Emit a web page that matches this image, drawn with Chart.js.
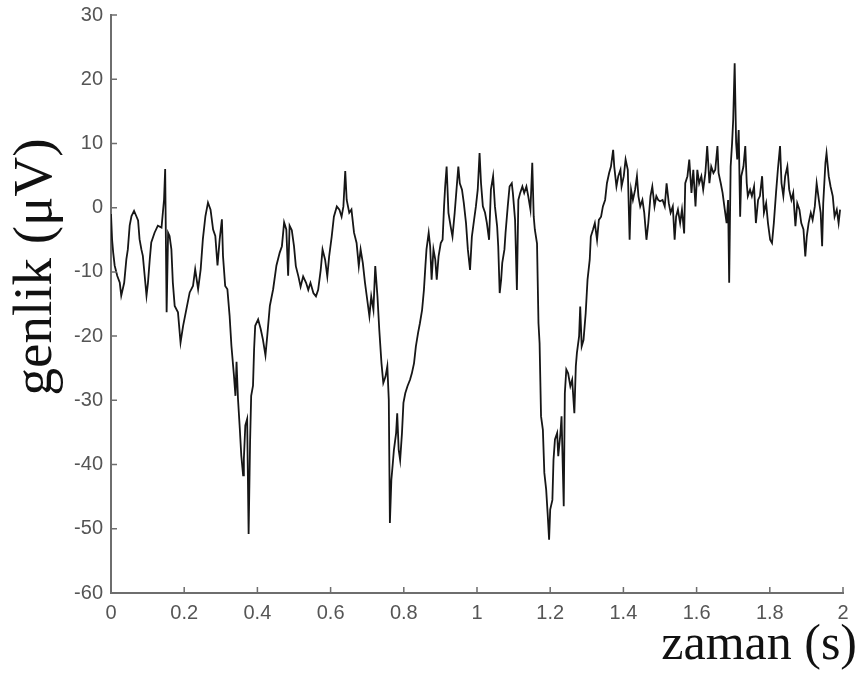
<!DOCTYPE html>
<html>
<head>
<meta charset="utf-8">
<title>genlik</title>
<script src="https://cdn.jsdelivr.net/npm/chart.js@4.4.1/dist/chart.umd.min.js"></script>
<style>
  html, body { margin: 0; padding: 0; background: #fff; }
  #wrap { width: 861px; height: 679px; }
</style>
</head>
<body>
<div id="wrap"><canvas id="eeg" width="861" height="679"></canvas></div>
<script>
// sample times (s) and amplitudes (µV) of the recorded trace
const times = [
  0.000, 0.003, 0.006, 0.010, 0.017, 0.024, 0.028, 0.036, 0.042, 0.046,
  0.051, 0.056, 0.063, 0.069, 0.074, 0.078, 0.083, 0.087, 0.092, 0.097,
  0.101, 0.106, 0.110, 0.119, 0.128, 0.138, 0.145, 0.148, 0.152, 0.156,
  0.160, 0.165, 0.169, 0.174, 0.183, 0.190, 0.197, 0.206, 0.215, 0.224,
  0.230, 0.238, 0.245, 0.251, 0.258, 0.265, 0.272, 0.279, 0.285, 0.291,
  0.297, 0.303, 0.306, 0.312, 0.318, 0.324, 0.329, 0.336, 0.340, 0.343,
  0.347, 0.352, 0.356, 0.361, 0.363, 0.367, 0.372, 0.376, 0.380, 0.383,
  0.388, 0.391, 0.394, 0.402, 0.409, 0.415, 0.422, 0.427, 0.434, 0.443,
  0.452, 0.461, 0.467, 0.473, 0.479, 0.484, 0.488, 0.494, 0.500, 0.505,
  0.512, 0.518, 0.525, 0.533, 0.539, 0.545, 0.553, 0.560, 0.566, 0.573,
  0.578, 0.585, 0.591, 0.596, 0.603, 0.609, 0.617, 0.624, 0.630, 0.635,
  0.640, 0.644, 0.651, 0.657, 0.664, 0.671, 0.677, 0.682, 0.688, 0.694,
  0.700, 0.706, 0.711, 0.717, 0.722, 0.728, 0.733, 0.739, 0.744, 0.750,
  0.755, 0.759, 0.762, 0.766, 0.770, 0.773, 0.779, 0.782, 0.786, 0.790,
  0.795, 0.799, 0.804, 0.810, 0.817, 0.822, 0.828, 0.833, 0.839, 0.844,
  0.850, 0.855, 0.859, 0.862, 0.868, 0.872, 0.876, 0.881, 0.886, 0.890,
  0.895, 0.901, 0.906, 0.910, 0.913, 0.917, 0.922, 0.928, 0.933, 0.939,
  0.944, 0.949, 0.953, 0.959, 0.964, 0.970, 0.975, 0.981, 0.986, 0.992,
  0.997, 1.002, 1.007, 1.011, 1.016, 1.022, 1.027, 1.033, 1.038, 1.044,
  1.049, 1.055, 1.058, 1.062, 1.066, 1.069, 1.075, 1.078, 1.084, 1.089,
  1.095, 1.098, 1.104, 1.109, 1.113, 1.118, 1.124, 1.129, 1.135, 1.140,
  1.146, 1.151, 1.155, 1.158, 1.164, 1.168, 1.171, 1.175, 1.180, 1.184,
  1.189, 1.193, 1.197, 1.200, 1.206, 1.209, 1.213, 1.219, 1.222, 1.228,
  1.231, 1.237, 1.240, 1.244, 1.249, 1.255, 1.260, 1.266, 1.270, 1.273,
  1.279, 1.282, 1.286, 1.291, 1.297, 1.302, 1.308, 1.311, 1.317, 1.322,
  1.328, 1.333, 1.339, 1.344, 1.350, 1.355, 1.361, 1.366, 1.372, 1.375,
  1.381, 1.386, 1.392, 1.395, 1.401, 1.406, 1.412, 1.417, 1.421, 1.426,
  1.432, 1.437, 1.441, 1.446, 1.452, 1.457, 1.463, 1.468, 1.474, 1.479,
  1.485, 1.490, 1.495, 1.500, 1.507, 1.513, 1.518, 1.524, 1.529, 1.535,
  1.540, 1.544, 1.549, 1.555, 1.560, 1.566, 1.569, 1.575, 1.580, 1.586,
  1.591, 1.597, 1.602, 1.607, 1.613, 1.618, 1.624, 1.629, 1.635, 1.640,
  1.646, 1.651, 1.657, 1.660, 1.666, 1.671, 1.677, 1.682, 1.686, 1.689,
  1.693, 1.697, 1.700, 1.704, 1.708, 1.711, 1.715, 1.719, 1.722, 1.728,
  1.733, 1.737, 1.740, 1.746, 1.751, 1.757, 1.762, 1.768, 1.773, 1.779,
  1.784, 1.790, 1.795, 1.801, 1.806, 1.811, 1.817, 1.822, 1.828, 1.832,
  1.837, 1.842, 1.848, 1.853, 1.859, 1.864, 1.870, 1.875, 1.881, 1.886,
  1.892, 1.897, 1.901, 1.906, 1.912, 1.917, 1.923, 1.928, 1.934, 1.939,
  1.943, 1.946, 1.952, 1.955, 1.961, 1.966, 1.972, 1.977, 1.983, 1.988,
  1.992
];

const amplitudes = [
  -1.0, -5.0, -7.0, -9.0, -10.6, -11.7, -13.7, -11.7, -8.0, -6.5,
  -2.8, -1.3, -0.5, -1.3, -2.0, -4.9, -6.5, -7.5, -10.6, -13.7,
  -11.7, -8.0, -5.4, -3.9, -2.8, -3.1, 1.3, 6.0, -16.3, -3.9,
  -4.4, -6.5, -11.7, -15.3, -16.3, -21.0, -18.4, -15.8, -13.2, -12.2,
  -9.6, -12.7, -9.6, -4.9, -1.3, 0.8, -0.3, -3.4, -4.4, -9.0,
  -4.9, -1.8, -7.5, -12.2, -12.7, -16.8, -21.5, -26.2, -29.3, -24.0,
  -29.8, -34.5, -38.6, -41.7, -39.1, -33.9, -32.9, -50.8, -36.5, -29.3,
  -27.7, -22.0, -18.4, -17.4, -18.9, -20.5, -23.0, -19.9, -15.3, -12.7,
  -9.0, -7.0, -6.0, -2.3, -3.4, -10.6, -2.8, -3.5, -6.0, -9.1,
  -10.7, -12.3, -10.7, -11.7, -12.8, -11.7, -13.3, -13.8, -12.8, -9.7,
  -6.5, -8.1, -10.7, -7.6, -4.5, -1.4, 0.2, -0.3, -1.4, 0.2,
  5.7, 1.2, -0.8, -0.3, -3.9, -5.5, -9.1, -6.5, -8.6, -11.7,
  -14.3, -16.9, -13.8, -15.9, -9.1, -13.8, -19.0, -24.2, -27.3, -26.3,
  -24.7, -29.9, -49.1, -42.4, -39.8, -37.7, -35.1, -32.0, -37.7, -39.3,
  -35.1, -30.4, -28.9, -27.8, -26.8, -25.8, -24.2, -21.6, -19.5, -18.0,
  -15.9, -12.8, -9.1, -6.5, -3.9, -6.0, -11.2, -6.5, -8.1, -11.2,
  -7.6, -5.5, -5.0, 0.2, 3.3, 6.4, -0.8, -2.9, -4.5, -0.8,
  2.8, 6.4, 3.8, 2.8, 0.7, -2.4, -6.5, -9.7, -4.5, -1.9,
  0.2, 2.8, 8.5, 3.8, 0.2, -0.8, -2.4, -5.0, 2.8, 4.9,
  0.2, -2.9, -6.0, -13.3, -11.2, -8.6, -6.5, -3.9, 0.2, 3.3,
  3.8, 2.3, -1.9, -12.8, 1.2, 2.3, 3.3, 2.3, 3.3, 1.8,
  -0.3, 7.0, -1.4, -3.4, -5.6, -18.0, -21.1, -32.5, -34.6, -41.3,
  -43.9, -47.6, -51.7, -47.0, -45.5, -39.3, -36.1, -35.1, -38.7, -35.1,
  -32.5, -46.5, -28.9, -25.2, -25.8, -27.8, -26.8, -32.0, -24.7, -22.6,
  -20.0, -15.4, -21.6, -20.6, -16.4, -11.2, -8.1, -4.5, -3.4, -2.4,
  -5.0, -1.9, -1.4, 0.2, 1.2, 3.8, 5.4, 6.4, 9.0, 6.4,
  3.3, 4.9, 5.9, 3.3, 4.9, 7.5, 5.9, -5.0, 2.8, 1.2,
  2.8, 4.9, 1.8, 0.2, 1.2, -0.8, -5.0, -2.4, 1.8, 3.3,
  0.2, 1.8, 1.2, 1.0, 1.2, 0.2, 3.8, 0.7, -0.8, 0.2,
  -5.0, -1.4, -0.3, -2.4, -0.3, -4.0, 3.8, 4.9, 7.5, 2.3,
  5.9, 0.2, 5.9, 3.8, 4.9, 2.8, 5.4, 9.6, 3.8, 6.4,
  5.4, 5.9, 9.6, 5.4, 3.8, 2.3, -0.3, -2.4, 1.2, -11.7,
  6.4, 10.1, 13.7, 22.5, 10.1, 7.5, 12.1, -1.4, 4.9, 6.4,
  9.6, 3.8, 1.8, 2.8, 1.8, 3.3, -2.4, 1.2, 1.8, 4.9,
  -0.8, 0.7, -2.4, -5.0, -5.5, -2.4, 2.3, 5.9, 9.6, 3.8,
  1.8, 4.9, 6.4, 2.8, 1.2, 2.3, -2.9, 0.7, -0.3, -2.4,
  -3.4, -7.6, -4.5, -2.4, -0.8, -1.9, 0.2, 3.8, 1.2, -0.8,
  -6.0, 0.7, 7.0, 8.5, 4.9, 3.3, 1.8, -1.4, -0.3, -2.4,
  -0.3
];

const xTicks = [0, 0.2, 0.4, 0.6, 0.8, 1, 1.2, 1.4, 1.6, 1.8, 2];
const yTicks = [-60, -50, -40, -30, -20, -10, 0, 10, 20, 30];
const xTitle = 'zaman (s)';
const yTitle = 'genlik (μV)';

const axisColor = '#6e6e6e';
const labelColor = '#555555';
const labelFont = { family: '"Liberation Sans", Arial, sans-serif', size: 20 };

// ticks point into the plot, and the axis titles sit in a big serif face
const axisDecor = {
  id: 'axisDecor',
  afterDraw(chart) {
    const { ctx, chartArea, scales } = chart;
    const len = 6;
    ctx.save();
    ctx.strokeStyle = axisColor;
    ctx.lineWidth = 1.5;
    ctx.beginPath();
    yTicks.forEach(v => {
      const y = scales.y.getPixelForValue(v);
      ctx.moveTo(chartArea.left, y);
      ctx.lineTo(chartArea.left + len, y);
    });
    xTicks.forEach(v => {
      const x = scales.x.getPixelForValue(v);
      ctx.moveTo(x, chartArea.bottom);
      ctx.lineTo(x, chartArea.bottom - len);
    });
    ctx.stroke();

    ctx.fillStyle = '#111';
    ctx.font = '50px "Liberation Serif", "Times New Roman", serif';
    ctx.textAlign = 'right';
    ctx.textBaseline = 'alphabetic';
    ctx.fillText(xTitle, chartArea.right + 14, chartArea.bottom + 66);

    ctx.font = '55px "Liberation Serif", "Times New Roman", serif';
    ctx.translate(37, chartArea.top + 252);
    ctx.rotate(-Math.PI / 2);
    ctx.textAlign = 'center';
    ctx.textBaseline = 'middle';
    ctx.fillText(yTitle, 0, 0);
    ctx.restore();
  }
};

new Chart(document.getElementById('eeg'), {
  type: 'line',
  data: {
    datasets: [{
      data: times.map((t, i) => ({ x: t, y: amplitudes[i] })),
      borderColor: '#161616',
      borderWidth: 1.8,
      pointRadius: 0,
      tension: 0,
      fill: false
    }]
  },
  options: {
    responsive: false,
    animation: false,
    layout: { padding: { top: 15, right: 18, left: 0, bottom: 0 } },
    plugins: {
      legend: { display: false },
      tooltip: { enabled: false }
    },
    scales: {
      x: {
        type: 'linear',
        min: 0,
        max: 2,
        afterBuildTicks: scale => { scale.ticks = xTicks.map(v => ({ value: v })); },
        ticks: {
          color: labelColor, font: labelFont, padding: 8, maxRotation: 0, autoSkip: false,
          callback: v => String(v)
        },
        grid: { display: false, drawTicks: false },
        border: { color: axisColor, width: 2 },
        afterFit: scale => { scale.height = 86; scale.paddingLeft = 0; scale.paddingRight = 0; }
      },
      y: {
        type: 'linear',
        min: -60,
        max: 30,
        afterBuildTicks: scale => { scale.ticks = yTicks.map(v => ({ value: v })); },
        ticks: { color: labelColor, font: labelFont, padding: 8, autoSkip: false },
        grid: { display: false, drawTicks: false },
        border: { color: axisColor, width: 2 },
        afterFit: scale => { scale.width = 111; scale.paddingTop = 0; scale.paddingBottom = 0; }
      }
    }
  },
  plugins: [axisDecor]
});
</script>
</body>
</html>
